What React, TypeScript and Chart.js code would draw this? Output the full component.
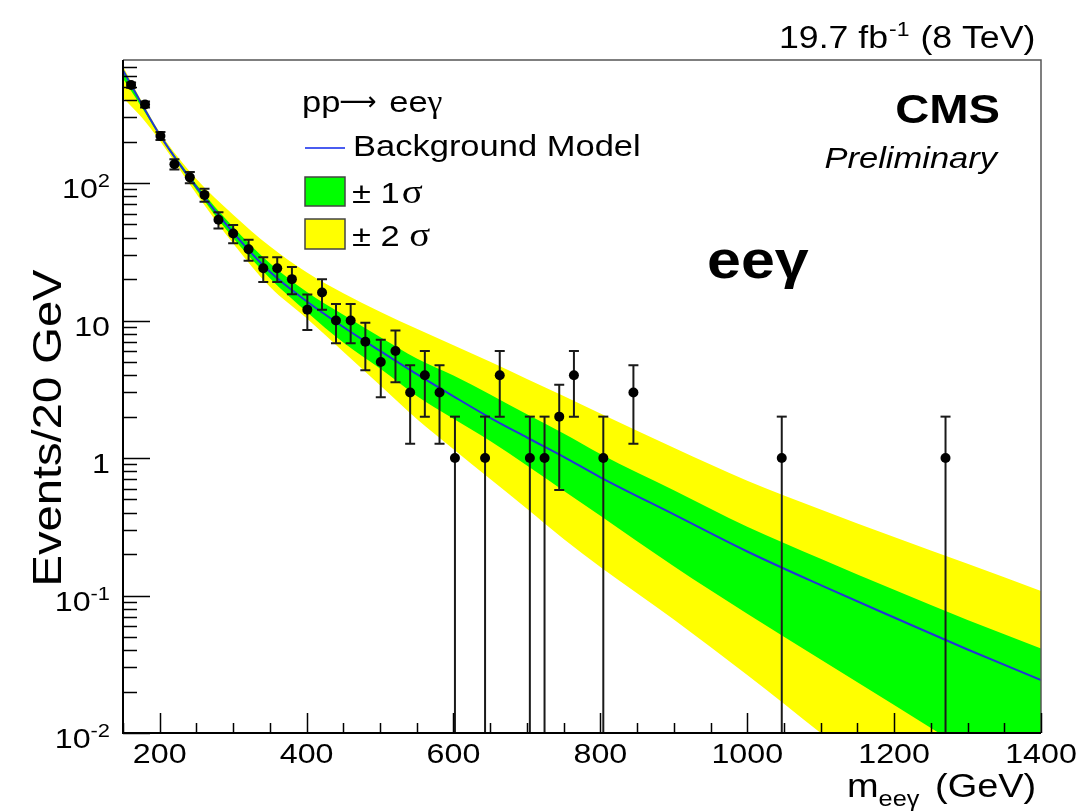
import React, { useEffect, useRef } from "react";
import { Chart, registerables } from "chart.js";

Chart.register(...registerables);

// ---- observed data (mass in GeV, events per 20 GeV) ----
const massBins = [161, 180, 201, 220, 241, 261, 280, 300, 321, 341, 360, 380, 401, 421, 440, 460, 480, 501, 521, 541, 561, 581, 602, 643, 663, 704, 724, 744, 764, 804, 845, 1047, 1270];
const eventCounts = [516, 373, 220, 137, 110, 82, 54, 43, 33, 24, 24, 20, 12, 16, 10, 10, 7, 5, 6, 3, 4, 3, 1, 1, 4, 1, 1, 2, 4, 1, 3, 1, 1];

// ---- background model and uncertainty bands ----
const modelMass = [150, 175, 200, 250, 300, 350, 400, 450, 500, 550, 600, 650, 700, 750, 800, 900, 1000, 1100, 1200, 1300, 1400];
const modelCenter = [661, 380, 224, 93.3, 43.6, 22.6, 13.8, 8.97, 6.01, 4.07, 2.81, 1.96, 1.41, 1.02, 0.724, 0.389, 0.209, 0.119, 0.0692, 0.0405, 0.0243];
const band1Up = [676, 389, 229, 97.7, 47.9, 26.1, 16.2, 11.0, 7.59, 5.3, 3.98, 2.9, 2.08, 1.51, 1.07, 0.582, 0.316, 0.185, 0.11, 0.0664, 0.0412];
const band1Down = [575, 359, 219, 89.1, 39.8, 20.3, 11.6, 6.92, 4.47, 2.83, 1.93, 1.33, 0.883, 0.579, 0.38, 0.163, 0.0736, 0.0343, 0.016, 0.00741, 0.00347];
const band2Up = [708, 398, 234, 107, 58.9, 34.7, 22.4, 15.8, 11.6, 8.71, 6.61, 5.01, 3.76, 2.82, 2.11, 1.19, 0.684, 0.422, 0.266, 0.17, 0.108];
const band2Down = [417, 302, 204, 83.2, 36.3, 17.6, 10.4, 5.94, 3.38, 1.92, 1.16, 0.703, 0.427, 0.258, 0.161, 0.0668, 0.0264, 0.01, 0.0038, 0.00145, 0.00055];

// ---- axes ----
const xMin = 150;
const xMax = 1400;
const yMin = 0.01;
const yMax = 785;
const xTickValues = [200, 400, 600, 800, 1000, 1200, 1400];
const xMinorStep = 50;
const yTickValues = [0.01, 0.1, 1, 10, 100];
const yTickBase = ["10", "10", "1", "10", "10"];
const yTickExp = ["-2", "-1", "", "", "2"];

const SANS = '"Liberation Sans", Arial, Helvetica, sans-serif';
const SERIF = '"Liberation Serif", "Times New Roman", serif';
const DEJAVU = '"DejaVu Sans", sans-serif';
const STRETCH = 1.15;

type TOpt = { align?: CanvasTextAlign; weight?: string; style?: string; family?: string; stretch?: number; color?: string };

function fontStr(size: number, o: TOpt) {
  return `${o.style || "normal"} ${o.weight || "normal"} ${size}px ${o.family || SANS}`;
}
function measure(ctx: CanvasRenderingContext2D, s: string, size: number, o: TOpt = {}) {
  ctx.save();
  ctx.font = fontStr(size, o);
  const w = ctx.measureText(s).width * (o.stretch ?? STRETCH);
  ctx.restore();
  return w;
}
function txt(ctx: CanvasRenderingContext2D, s: string, x: number, y: number, size: number, o: TOpt = {}) {
  ctx.save();
  ctx.font = fontStr(size, o);
  ctx.translate(x, y);
  ctx.scale(o.stretch ?? STRETCH, 1);
  ctx.textAlign = o.align || "left";
  ctx.textBaseline = "alphabetic";
  ctx.fillStyle = o.color || "#000";
  ctx.fillText(s, 0, 0);
  ctx.restore();
  return measure(ctx, s, size, o);
}

const decorPlugin = {
  id: "rootDecor",
  beforeDatasetDraw(chart: any, args: any) {
    if (args.index !== 0) return;
    const ctx: CanvasRenderingContext2D = chart.ctx;
    const xs = chart.scales.x;
    const ys = chart.scales.y;
    const a = chart.chartArea;
    ctx.save();
    ctx.beginPath();
    ctx.rect(a.left, a.top, a.right - a.left, a.bottom - a.top);
    ctx.clip();
    ctx.strokeStyle = "#1a1a1a";
    ctx.lineWidth = 2;
    massBins.forEach((m, i) => {
      const n = eventCounts[i];
      const err = Math.sqrt(n);
      const px = xs.getPixelForValue(m);
      const yHi = ys.getPixelForValue(n + err);
      const lo = n - err;
      const yLo = lo > 0 ? ys.getPixelForValue(lo) : a.bottom + 5;
      ctx.beginPath();
      ctx.moveTo(px, yHi);
      ctx.lineTo(px, yLo);
      ctx.stroke();
      ctx.beginPath();
      ctx.moveTo(px - 5, yHi);
      ctx.lineTo(px + 5, yHi);
      if (lo > 0) {
        ctx.moveTo(px - 5, yLo);
        ctx.lineTo(px + 5, yLo);
      }
      ctx.stroke();
    });
    ctx.restore();
  },
  afterDraw(chart: any) {
    const ctx: CanvasRenderingContext2D = chart.ctx;
    const xs = chart.scales.x;
    const ys = chart.scales.y;
    const a = chart.chartArea;

    // frame
    ctx.save();
    ctx.strokeStyle = "#555";
    ctx.lineWidth = 1.5;
    ctx.beginPath();
    ctx.moveTo(a.left, a.top);
    ctx.lineTo(a.right, a.top);
    ctx.lineTo(a.right, a.bottom);
    ctx.stroke();
    ctx.strokeStyle = "#000";
    ctx.lineWidth = 2;
    ctx.beginPath();
    ctx.moveTo(a.left, a.top);
    ctx.lineTo(a.left, a.bottom);
    ctx.lineTo(a.right, a.bottom);
    ctx.stroke();

    // y ticks
    ctx.lineWidth = 1.5;
    ctx.beginPath();
    for (let e = -2; e <= 2; e++) {
      for (let m = 1; m <= 9; m++) {
        const v = m * Math.pow(10, e);
        if (v < yMin || v > yMax) continue;
        const py = Math.round(ys.getPixelForValue(v)) + 0.5;
        const len = m === 1 ? 27 : 14;
        ctx.moveTo(a.left, py);
        ctx.lineTo(a.left + len, py);
      }
    }
    // x ticks
    for (let v = xMin; v <= xMax; v += xMinorStep) {
      const px = Math.round(xs.getPixelForValue(v)) + 0.5;
      const major = xTickValues.includes(v);
      ctx.moveTo(px, a.bottom);
      ctx.lineTo(px, a.bottom - (major ? 20 : 10));
    }
    ctx.stroke();
    ctx.restore();

    // y tick labels
    yTickValues.forEach((v, i) => {
      const py = ys.getPixelForValue(v);
      const R = 110;
      const base = yTickBase[i];
      const ex = yTickExp[i];
      const ew = ex ? measure(ctx, ex, 19) : 0;
      const bw = measure(ctx, base, 28);
      txt(ctx, base, R - ew - bw, py + 15, 28);
      if (ex) txt(ctx, ex, R - ew, py + 4, 19);
    });
    // x tick labels
    xTickValues.forEach((v) => {
      const px = xs.getPixelForValue(v);
      txt(ctx, String(v), px, 763, 28, { align: "center" });
    });

    // x title
    let cx = 847;
    cx += txt(ctx, "m", cx, 797, 33);
    txt(ctx, "eeγ", cx, 806, 22);
    txt(ctx, "(GeV)", 935, 797, 33);

    // y title
    ctx.save();
    ctx.translate(61, 428);
    ctx.rotate(-Math.PI / 2);
    txt(ctx, "Events/20 GeV", 0, 0, 41, { align: "center" });
    ctx.restore();

    // lumi label
    let lx = 779;
    lx += txt(ctx, "19.7 fb", lx, 48, 31);
    lx += txt(ctx, "-1", lx + 1, 36, 20);
    txt(ctx, " (8 TeV)", lx + 2, 48, 31);

    // CMS Preliminary
    txt(ctx, "CMS", 1000, 123, 41, { align: "right", weight: "bold" });
    txt(ctx, "Preliminary", 997, 168, 30, { align: "right", style: "italic" });
    txt(ctx, "eeγ", 707, 278, 53, { weight: "bold" });

    // legend
    let px0 = 302;
    px0 += txt(ctx, "pp", px0, 112, 30);
    px0 += txt(ctx, "⟶", px0 - 1, 110, 26, { family: DEJAVU, stretch: 1.0 });
    px0 += txt(ctx, " ee", px0 + 2, 112, 30);
    txt(ctx, "γ", px0 + 2, 112, 32, { family: SERIF, stretch: 1.05 });

    ctx.save();
    ctx.strokeStyle = "#4a5cf0";
    ctx.lineWidth = 2;
    ctx.beginPath();
    ctx.moveTo(305, 148);
    ctx.lineTo(345, 148);
    ctx.stroke();
    ctx.restore();
    txt(ctx, "Background Model", 353, 156, 30);

    ctx.save();
    ctx.lineWidth = 1.5;
    ctx.strokeStyle = "#444";
    ctx.fillStyle = "#00ff00";
    ctx.fillRect(305, 177, 40, 29);
    ctx.strokeRect(305, 177, 40, 29);
    ctx.fillStyle = "#ffff00";
    ctx.fillRect(305, 219, 40, 30);
    ctx.strokeRect(305, 219, 40, 30);
    ctx.restore();
    let gx = 352;
    gx += txt(ctx, "± 1", gx, 203, 30);
    txt(ctx, "σ", gx + 2, 203, 34, { family: SERIF });
    gx = 352;
    gx += txt(ctx, "± 2 ", gx, 246, 30);
    txt(ctx, "σ", gx, 246, 34, { family: SERIF });
  },
};

export default function App() {
  const ref = useRef<HTMLCanvasElement>(null);
  useEffect(() => {
    const canvas = ref.current;
    if (!canvas) return;
    const pts = massBins.map((x, i) => ({ x, y: eventCounts[i] }));
    const mk = (arr: number[]) => modelMass.map((x, i) => ({ x, y: arr[i] }));
    const bandStyle = {
      borderWidth: 0,
      borderColor: "rgba(0,0,0,0)",
      pointRadius: 0,
      cubicInterpolationMode: "monotone" as const,
    };
    const chart = new Chart(canvas, {
      type: "line",
      data: {
        datasets: [
          {
            label: "data",
            data: pts,
            showLine: false,
            pointRadius: 5,
            pointBackgroundColor: "#000",
            pointBorderColor: "#000",
            pointBorderWidth: 0,
            order: 0,
          },
          {
            label: "Background Model",
            data: mk(modelCenter),
            borderColor: "#2236d6",
            borderWidth: 2,
            pointRadius: 0,
            fill: false,
            cubicInterpolationMode: "monotone",
            order: 1,
          },
          { label: "+1 sigma", data: mk(band1Up), ...bandStyle, backgroundColor: "#00ff00", fill: "+1", order: 2 },
          { label: "-1 sigma", data: mk(band1Down), ...bandStyle, fill: false, order: 2 },
          { label: "+2 sigma", data: mk(band2Up), ...bandStyle, backgroundColor: "#ffff00", fill: "+1", order: 3 },
          { label: "-2 sigma", data: mk(band2Down), ...bandStyle, fill: false, order: 3 },
        ] as any,
      },
      options: {
        responsive: false,
        animation: false,
        devicePixelRatio: 1,
        layout: { padding: { left: 123, right: 47, top: 60, bottom: 78 } },
        plugins: { legend: { display: false }, tooltip: { enabled: false } },
        scales: {
          x: { type: "linear", min: xMin, max: xMax, display: false },
          y: { type: "logarithmic", min: yMin, max: yMax, display: false },
        },
      },
      plugins: [decorPlugin as any],
    });
    return () => chart.destroy();
  }, []);
  return (
    <div style={{ position: "fixed", left: 0, top: 0, width: 1088, height: 811, background: "#fff" }}>
      <canvas ref={ref} width={1088} height={811} style={{ display: "block", width: 1088, height: 811 }} />
    </div>
  );
}
